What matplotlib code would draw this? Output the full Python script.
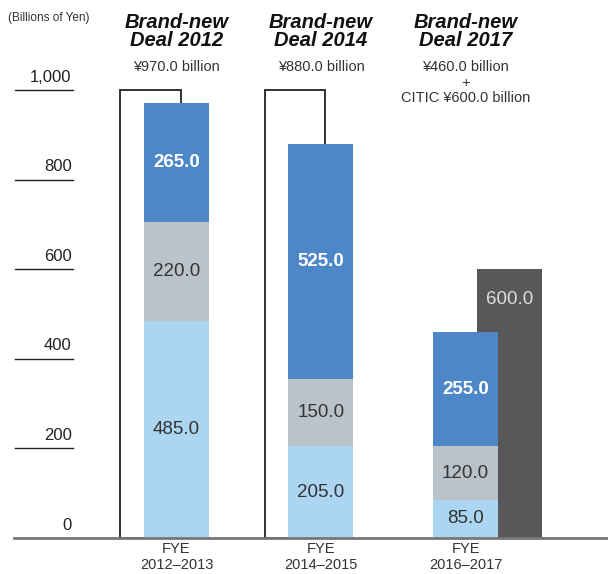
import matplotlib
matplotlib.use("Agg")
import matplotlib.pyplot as plt

plt.rcParams['font.family'] = ['Liberation Sans', 'DejaVu Sans']

# data
periods = ["FYE\n2012\u20132013", "FYE\n2014\u20132015", "FYE\n2016\u20132017"]
deal_titles = ["Brand-new\nDeal 2012", "Brand-new\nDeal 2014", "Brand-new\nDeal 2017"]
deal_totals = ["\u00a5970.0 billion", "\u00a5880.0 billion",
               "\u00a5460.0 billion\n+\nCITIC \u00a5600.0 billion"]
bottom_vals = [485.0, 205.0, 85.0]
middle_vals = [220.0, 150.0, 120.0]
top_vals = [265.0, 525.0, 255.0]
outline_vals = [1000, 1000, None]
citic_val = 600.0
yticks = [0, 200, 400, 600, 800, 1000]

C_LIGHT = "#acd5f1"
C_GREY = "#bbc3ca"
C_BLUE = "#4d87c7"
C_DARK = "#58585a"

fig = plt.figure(figsize=(6.08, 5.74), dpi=100)
ax = fig.add_axes([0, 36/574, 1, 448/574])
ax.set_xlim(-1.221, 2.986)
ax.set_ylim(0, 1000)
ax.axis('off')

w = 0.45
x = list(range(len(periods)))

# outline frames behind bars
for i, v in enumerate(outline_vals):
    if v is None:
        continue
    ax.bar(x[i] - 0.18, v, width=0.42, facecolor="white", edgecolor="#222222",
           linewidth=1.3, zorder=1, clip_on=False)

# CITIC bar behind third stack
ax.bar(x[2] + 0.305, citic_val, width=w, color=C_DARK, zorder=1)
ax.text(x[2] + 0.305, citic_val - 67, f"{citic_val:.1f}", ha="center", va="center",
        color="#dddddd", fontsize=13.5)

ax.bar(x, bottom_vals, width=w, color=C_LIGHT, zorder=2)
ax.bar(x, middle_vals, width=w, bottom=bottom_vals, color=C_GREY, zorder=2)
base3 = [a + b for a, b in zip(bottom_vals, middle_vals)]
ax.bar(x, top_vals, width=w, bottom=base3, color=C_BLUE, zorder=2)

for i in x:
    ax.text(i, bottom_vals[i] / 2, f"{bottom_vals[i]:.1f}", ha="center", va="center",
            color="#333333", fontsize=13.5, zorder=3)
    ax.text(i, bottom_vals[i] + middle_vals[i] / 2, f"{middle_vals[i]:.1f}", ha="center",
            va="center", color="#333333", fontsize=13.5, zorder=3)
    ax.text(i, base3[i] + top_vals[i] / 2, f"{top_vals[i]:.1f}", ha="center", va="center",
            color="white", fontsize=13.5, fontweight="bold", zorder=3)

# y ticks drawn as short rules with labels sitting on them
tr = ax.get_yaxis_transform()
for t in yticks:
    if t > 0:
        ax.plot([0.025, 0.12], [t, t], color="#222222", lw=1.0, transform=tr, clip_on=False)
    ax.text(0.118, t + 12, f"{t:,}", transform=tr, ha="right", va="bottom",
            fontsize=12, color="#222222")

# baseline
ax.plot([0.023, 1.0], [0, 0], color="#777777", lw=2, transform=tr, clip_on=False, zorder=4)

# category labels
for i, lab in enumerate(periods):
    ax.text(i, -10, lab, ha="center", va="top", fontsize=10.5, color="#333333",
            linespacing=1.1)

# titles
xt = ax.get_xaxis_transform()
for i in x:
    ax.text(i, 1.13, deal_titles[i], transform=xt, ha="center", va="center",
            fontsize=14.5, fontweight="bold", fontstyle="italic", color="#111111",
            linespacing=0.95)
    ax.text(i, 1.066, deal_totals[i], transform=xt, ha="center",
            va="top", fontsize=10.5, color="#333333", linespacing=1.1)

fig.text(8/608, 1 - 18/574, "(Billions of Yen)", ha="left", va="center",
         fontsize=8.5, color="#333333")

fig.savefig("out.png", dpi=100)
